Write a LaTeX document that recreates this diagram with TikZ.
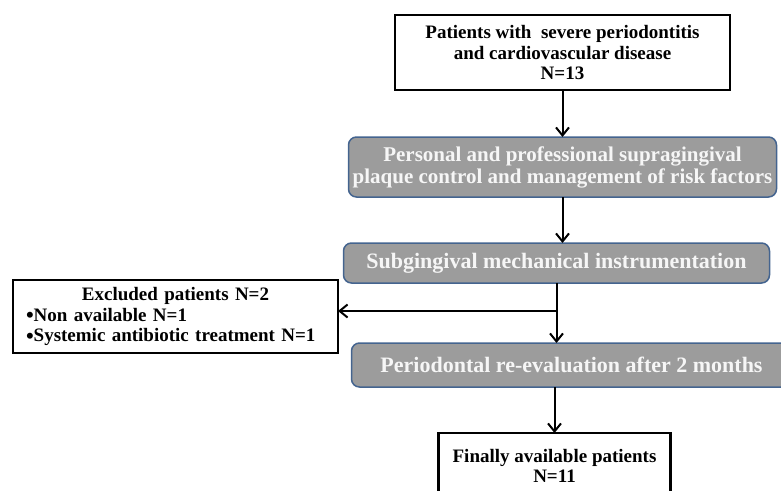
\documentclass[tikz,border=0pt]{standalone}
\usepackage{fontspec}
\setmainfont{Liberation Serif}
\usetikzlibrary{arrows.meta,positioning}

\definecolor{boxgrey}{HTML}{9C9C9C}
\definecolor{boxedge}{HTML}{44648F}
\definecolor{boxtext}{HTML}{F6F6F6}

\begin{document}
\begin{tikzpicture}[x=1pt, y=1pt, >={Straight Barb[length=8pt,width=13pt]}, line width=2pt,
    blackbox/.style={draw=black, line width=2.3pt, fill=white, align=center, inner sep=0pt,
                     outer sep=0pt, font=\fontsize{19}{20.5}\selectfont\bfseries},
    greybox/.style={draw=boxedge, line width=1.5pt, fill=boxgrey, rounded corners=8pt,
                    text=boxtext, align=center, inner sep=0pt, outer sep=0pt,
                    font=\fontsize{21}{22}\selectfont\bfseries}]
    \useasboundingbox (0,0) rectangle (781,-490);

    % Nodes {patients, plaque, subging, reeval, final, excluded}
    \node [blackbox, minimum width=335pt, minimum height=75pt, yshift=-2pt] (patients) at (562.5,-50.5)
        {Patients with~ severe periodontitis\\ and cardiovascular disease\\ N=13};
    \node [greybox, minimum width=428pt, minimum height=60pt] (plaque) [below=47pt of patients]
        {Personal and professional supragingival\\ plaque control and management of risk factors};
    \node [greybox, minimum width=426pt, minimum height=40pt, font=\fontsize{22}{22}\selectfont\bfseries]
        (subging) [below=46pt of plaque, xshift=-6pt]
        {Subgingival mechanical instrumentation};
    \node [greybox, minimum width=440pt, minimum height=44pt, font=\fontsize{22}{22}\selectfont\bfseries]
        (reeval) [below=60pt of subging, xshift=15pt]
        {Periodontal re-evaluation after 2 months};
    \node [blackbox, minimum width=232pt, minimum height=66pt] (final) [below=46pt of reeval, xshift=-17pt]
        {Finally available patients\\ N=11};
    \node [blackbox, minimum width=325pt, minimum height=73pt, text width=299pt, align=left]
        (excluded) at (175.5,-316.5)
        {\makebox[299pt]{Excluded patients N=2}\\
         \smash{\raisebox{-1.5pt}{\fontsize{22}{0}\selectfont•}}Non available N=1\\
         \smash{\raisebox{-1.5pt}{\fontsize{22}{0}\selectfont•}}Systemic antibiotic treatment N=1};
    \coordinate (branch) at (557,-311);

    % Paths
    \path [->] (patients) edge (plaque);
    \path [->] (plaque.south) edge (plaque.south |- subging.north);
    \path [->] (subging.south) edge (subging.south |- reeval.north);
    \path [->] (reeval.south -| final.north) edge (final.north);
    \path [->] (branch) edge (branch -| excluded.east);

\end{tikzpicture}
\end{document}
